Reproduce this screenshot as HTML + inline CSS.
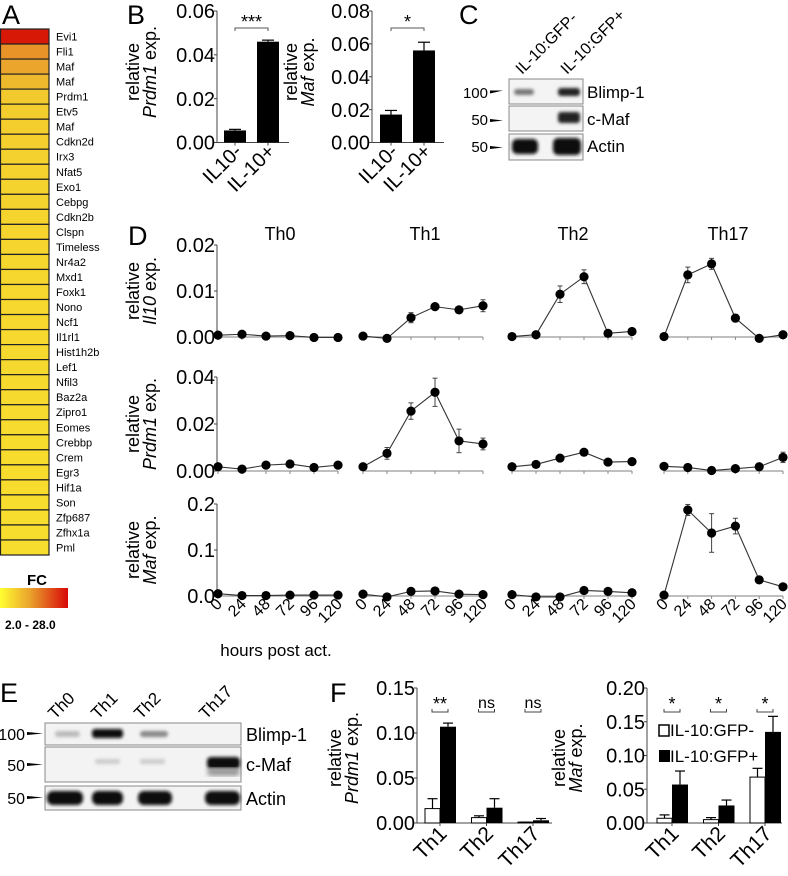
<!DOCTYPE html>
<html><head><meta charset="utf-8"><style>
html,body{margin:0;padding:0;background:#fff;}
svg{display:block;font-family:"Liberation Sans",Arial,sans-serif;}
</style></head><body>
<svg id="fig" width="788" height="876" viewBox="0 0 788 876" xmlns="http://www.w3.org/2000/svg">
<defs>
<linearGradient id="fcgrad" x1="0" x2="1" y1="0" y2="0">
<stop offset="0" stop-color="#ffff30"/><stop offset="0.45" stop-color="#eaa02c"/><stop offset="1" stop-color="#d80808"/>
</linearGradient>
<filter id="blur1"><feGaussianBlur stdDeviation="1.6"/></filter>
<filter id="blur2"><feGaussianBlur stdDeviation="2.5"/></filter>
</defs>
<!-- panel letters -->
<text x="2" y="24" font-size="27">A</text>
<text x="127" y="24" font-size="27">B</text>
<text x="459" y="24" font-size="27">C</text>
<text x="128" y="245" font-size="27">D</text>
<text x="0" y="702" font-size="27">E</text>
<text x="330" y="702" font-size="27">F</text>

<g id="heat"></g>
<g>
<text x="37" y="585" font-size="15" font-weight="bold" text-anchor="middle">FC</text>
<rect x="0" y="588" width="68" height="20" fill="url(#fcgrad)"/>
<text x="5" y="629" font-size="12" font-weight="bold">2.0 - 28.0</text>
</g>

<g id="panelB"></g>
<g id="panelC">
<text transform="translate(522,75) rotate(-45)" font-size="16">IL-10:GFP-</text>
<text transform="translate(567,75) rotate(-45)" font-size="16">IL-10:GFP+</text>
<rect x="509" y="79" width="74" height="25" fill="#f4f4f4" stroke="#888"/>
<rect x="509" y="106" width="74" height="25" fill="#f4f4f4" stroke="#888"/>
<rect x="509" y="134" width="74" height="26" fill="#f4f4f4" stroke="#888"/>
<g filter="url(#blur1)">
<rect x="514" y="89" width="20" height="6" rx="3" fill="#777"/>
<rect x="558" y="88" width="22" height="8" rx="3" fill="#222"/>
<rect x="558" y="112" width="22" height="11" rx="3" fill="#222"/>
<rect x="512" y="139" width="26" height="15" rx="5" fill="#111"/>
<rect x="553" y="138" width="28" height="17" rx="5" fill="#111"/>
</g>
<text x="488" y="98" font-size="15" text-anchor="end">100</text><polygon points="490,92 503,92 490,95" fill="#000" transform="translate(0,-1.5)"/>
<text x="488" y="125" font-size="15" text-anchor="end">50</text><polygon points="490,119 503,120.5 490,122" fill="#000"/>
<text x="488" y="152" font-size="15" text-anchor="end">50</text><polygon points="490,146 503,147.5 490,149" fill="#000"/>
<text x="587" y="98" font-size="17">Blimp-1</text>
<text x="587" y="125" font-size="17">c-Maf</text>
<text x="587" y="152" font-size="17">Actin</text>
</g>

<g id="panelD"></g>

<g id="panelE">
<text transform="translate(55,720) rotate(-45)" font-size="17">Th0</text>
<text transform="translate(98,720) rotate(-45)" font-size="17">Th1</text>
<text transform="translate(141,720) rotate(-45)" font-size="17">Th2</text>
<text transform="translate(206,720) rotate(-45)" font-size="17">Th17</text>
<rect x="45" y="723" width="196" height="22" fill="#f3f3f3" stroke="#888"/>
<rect x="45" y="747" width="196" height="35" fill="#f3f3f3" stroke="#888"/>
<rect x="45" y="786" width="196" height="24" fill="#f3f3f3" stroke="#888"/>
<g filter="url(#blur1)">
<rect x="55" y="731" width="25" height="6" rx="3" fill="#bbb"/>
<rect x="92" y="729" width="31" height="9" rx="3" fill="#111"/>
<rect x="140" y="731" width="28" height="6" rx="3" fill="#888"/>
<rect x="95" y="759" width="25" height="5" rx="2" fill="#ccc"/>
<rect x="140" y="759" width="25" height="5" rx="2" fill="#ccc"/>
<rect x="207" y="757" width="33" height="12" rx="4" fill="#111"/>
<rect x="47" y="791" width="36" height="14" rx="6" fill="#0a0a0a"/>
<rect x="92" y="791" width="31" height="14" rx="6" fill="#0a0a0a"/>
<rect x="138" y="791" width="34" height="14" rx="6" fill="#0a0a0a"/>
<rect x="205" y="791" width="35" height="14" rx="6" fill="#0a0a0a"/>
</g>
<rect x="207" y="768" width="33" height="8" rx="4" fill="#999" filter="url(#blur2)"/>
<text x="25" y="740" font-size="16" text-anchor="end">100</text><polygon points="27,732 43,733.5 27,735" fill="#000"/>
<text x="25" y="771" font-size="16" text-anchor="end">50</text><polygon points="27,763 43,764.5 27,766" fill="#000"/>
<text x="25" y="804" font-size="16" text-anchor="end">50</text><polygon points="27,796 43,797.5 27,799" fill="#000"/>
<text x="246" y="741" font-size="18">Blimp-1</text>
<text x="246" y="771" font-size="18">c-Maf</text>
<text x="246" y="805" font-size="18">Actin</text>
</g>

<g id="panelF"></g>
</svg>
<script>
// ---------- Heatmap data ----------
const hmGenes = ["Evi1","Fli1","Maf","Maf","Prdm1","Etv5","Maf","Cdkn2d","Irx3","Nfat5","Exo1","Cebpg","Cdkn2b","Clspn","Timeless","Nr4a2","Mxd1","Foxk1","Nono","Ncf1","Il1rl1","Hist1h2b","Lef1","Nfil3","Baz2a","Zipro1","Eomes","Crebbp","Crem","Egr3","Hif1a","Son","Zfp687","Zfhx1a","Pml"];
const hmFC = [28,15,13,10.5,8.5,8.2,8,7.8,7.6,7.5,7.4,7.3,7.2,7.1,7,6.9,6.9,6.8,6.8,6.7,6.7,6.6,6.6,6.5,6.5,6.4,6.4,6.3,6.3,6.2,6.2,6.1,6.1,6,6];

// ---------- Panel B data ----------
const bCats = ["IL10-","IL-10+"];
const bPrdm1 = [0.0055,0.046];
const bPrdm1Err = [0.0005,0.0007];
const bPrdm1Ticks = [0,0.02,0.04,0.06];
const bMaf = [0.017,0.056];
const bMafErr = [0.0025,0.005];
const bMafTicks = [0,0.02,0.04,0.06,0.08];

// ---------- Panel D data ----------
const dTimes = ["0","24","48","72","96","120"];
const dConds = ["Th0","Th1","Th2","Th17"];
const dIl10 = [
 [0.0004,0.0006,0.0002,0.0003,-0.0001,-0.0001],
 [0.0002,-0.0003,0.0042,0.0066,0.0059,0.0068],
 [0.0001,0.0005,0.0093,0.0131,0.0008,0.0012],
 [0.0001,0.0135,0.0159,0.0041,-0.0003,0.0005]];
const dIl10Err = [
 [0,0,0,0,0,0],[0,0,0.0011,0.0006,0.0003,0.0013],[0,0,0.0018,0.0015,0,0],[0,0.0017,0.0012,0.0008,0,0]];
const dPrdm1 = [
 [0.0018,0.0008,0.0025,0.003,0.0015,0.0025],
 [0.0018,0.0075,0.0255,0.0335,0.0128,0.0115],
 [0.0018,0.0028,0.0055,0.008,0.0038,0.004],
 [0.002,0.0015,0.0002,0.001,0.0018,0.0058]];
const dPrdm1Err = [
 [0,0,0,0,0,0],[0,0.0025,0.0035,0.006,0.005,0.0025],[0,0,0,0,0,0],[0,0,0,0,0,0.0022]];
const dMaf = [
 [0.005,0.001,0.001,0.002,0.002,0.002],
 [0.004,-0.002,0.01,0.011,0.004,0.003],
 [0.003,-0.002,-0.002,0.012,0.01,0.007],
 [0.002,0.187,0.137,0.152,0.035,0.02]];
const dMafErr = [
 [0,0,0,0,0,0],[0,0,0,0,0,0],[0,0,0,0,0,0],[0,0.012,0.042,0.017,0.004,0]];
const dIl10Ticks = ["0.00","0.01","0.02"];
const dPrdm1Ticks = ["0.00","0.02","0.04"];
const dMafTicks = ["0.0","0.1","0.2"];

// ---------- Panel F data ----------
const fCats = ["Th1","Th2","Th17"];
const fPrdm1Neg = [0.016,0.006,0.001];
const fPrdm1NegErr = [0.011,0.002,0];
const fPrdm1Pos = [0.107,0.017,0.003];
const fPrdm1PosErr = [0.004,0.01,0.002];
const fPrdm1Sig = ["**","ns","ns"];
const fPrdm1Ticks = ["0.00","0.05","0.10","0.15"];
const fMafNeg = [0.007,0.005,0.068];
const fMafNegErr = [0.005,0.003,0.013];
const fMafPos = [0.057,0.026,0.135];
const fMafPosErr = [0.02,0.008,0.023];
const fMafSig = ["*","*","*"];
const fMafTicks = ["0.00","0.05","0.10","0.15","0.20"];

const NS = "http://www.w3.org/2000/svg";
function mk(tag, parent, attrs){
  const e = document.createElementNS(NS, tag);
  for (const k in attrs) e.setAttribute(k, attrs[k]);
  parent.appendChild(e);
  return e;
}
function lerp(a,b,t){return a+(b-a)*t;}
function fcColor(v){
  const t = Math.max(0,Math.min(1,(v-2)/26));
  const c0=[255,255,48], c1=[234,160,44], c2=[216,24,6];
  let r,g,b;
  if(t<0.45){const u=t/0.45;r=lerp(c0[0],c1[0],u);g=lerp(c0[1],c1[1],u);b=lerp(c0[2],c1[2],u);}
  else{const u=(t-0.45)/0.55;r=lerp(c1[0],c2[0],u);g=lerp(c1[1],c2[1],u);b=lerp(c1[2],c2[2],u);}
  return `rgb(${r|0},${g|0},${b|0})`;
}

// ---------- Heatmap ----------
(function(){
  const g = document.getElementById("heat");
  const top=29, rowH=526/hmGenes.length;
  hmGenes.forEach((name,i)=>{
    const r = mk("rect", g, {x:0.5,y:top+i*rowH,width:48.5,height:rowH,fill:fcColor(hmFC[i]),stroke:"#222","stroke-width":1.2});
    
    
    const t = mk("text", g, {x:56,y:top+i*rowH+rowH/2+4,"font-size":11});
    t.textContent = name;
    
    
  });
})();

// ---------- Generic y-axis ----------
function yAxis(g, x, y0, y1, vmax, ticks, fs, labels){
  const sy = v => y0 - (v/vmax)*(y0-y1);
  const ax = mk("line", g, {x1:x,x2:x,y1:sy(vmax),y2:y0,stroke:"#444","stroke-width":1});
  
  
  ticks.forEach((tv,i)=>{
    const v = parseFloat(tv);
    mk("line", g, {x1:x-3,x2:x,y1:sy(v),y2:sy(v),stroke:"#444"});
    const t = mk("text", g, {x:x-2,y:sy(v)+fs*0.36,"font-size":fs,"text-anchor":"end"});
    t.textContent = labels ? labels[i] : tv;
    
    
  });
  return sy;
}
function yTitle(g, cx, cy, gene, fs){
  const t1 = mk("text", g, {transform:`translate(${cx-9},${cy}) rotate(-90)`,"font-size":fs,"text-anchor":"middle"});
  t1.textContent = "relative";
  
  
  const t2 = mk("text", g, {transform:`translate(${cx+8},${cy}) rotate(-90)`,"font-size":fs,"text-anchor":"middle"});
  const it = mk("tspan", t2, {"font-style":"italic"}); it.textContent = gene;
  const rest = mk("tspan", t2, {}); rest.textContent = " exp.";
  
  
}
function errBar(g, x, yTop, yVal, w){
  mk("line", g, {x1:x,x2:x,y1:yTop,y2:yVal,stroke:"#000","stroke-width":1.2});
  mk("line", g, {x1:x-w,x2:x+w,y1:yTop,y2:yTop,stroke:"#000","stroke-width":1.2});
}

// ---------- Panel B ----------
(function(){
  const g = document.getElementById("panelB");
  function chart(ax, vmax, ticks, vals, errs, gene, titleX, c0, star){
    const y0=142.5, y1=11;
    const sy = yAxis(g, ax, y0, y1, vmax, ticks.map(v=>v.toFixed(2)), 20);
    mk("line", g, {x1:ax,x2:ax+72,y1:y0,y2:y0,stroke:"#444"});
    yTitle(g, titleX, 72, gene, 18);
    vals.forEach((v,i)=>{
      const cx = c0 + i*33;
      errBar(g, cx, sy(v+errs[i]), sy(v), 6);
      const r = mk("rect", g, {x:cx-11,y:sy(v),width:22,height:y0-sy(v),fill:"#000"});
      
      
      mk("line", g, {x1:cx,x2:cx,y1:y0,y2:y0+3,stroke:"#444"});
      const t = mk("text", g, {transform:`translate(${cx+8},${y0+10}) rotate(-45)`,"font-size":20,"text-anchor":"end"});
      t.textContent = bCats[i];
      
      
    });
    mk("path", g, {d:`M${c0},31 V28 H${c0+33} V31`,fill:"none",stroke:"#555"});
    const s = mk("text", g, {x:c0+16.5,y:28,"font-size":18,"text-anchor":"middle"});
    s.textContent = star;
    
    
  }
  chart(217, 0.06, bPrdm1Ticks, bPrdm1, bPrdm1Err, "Prdm1", 148, 235, "***");
  chart(372, 0.08, bMafTicks, bMaf, bMafErr, "Maf", 306, 391, "*");
})();

// ---------- Panel D ----------
(function(){
  const g = document.getElementById("panelD");
  const starts=[218,363,512,664], step=[24,24,24,23.8];
  const titleCx=[280,425,573,728];
  dConds.forEach((c,i)=>{
    const t = mk("text", g, {x:titleCx[i],y:240,"font-size":18,"text-anchor":"middle"});
    t.textContent = c;
    
    
  });
  const rows = [
    {vals:dIl10,err:dIl10Err,ticks:dIl10Ticks,vmax:0.02,y0:337,y1:245,gene:"Il10"},
    {vals:dPrdm1,err:dPrdm1Err,ticks:dPrdm1Ticks,vmax:0.04,y0:471,y1:377,gene:"Prdm1"},
    {vals:dMaf,err:dMafErr,ticks:dMafTicks,vmax:0.2,y0:596,y1:504,gene:"Maf"}];
  rows.forEach((row,ri)=>{
    const sy = yAxis(g, 217, row.y0, row.y1, row.vmax, row.ticks, 20);
    yTitle(g, 148, (row.y0+row.y1)/2, row.gene, 18);
    dConds.forEach((c,ci)=>{
      const sx = k => starts[ci] + k*step[ci];
      const base = mk("line", g, {x1:sx(0),x2:sx(5),y1:row.y0,y2:row.y0,stroke:"#999","stroke-width":1.3});
      
      
      dTimes.forEach((tm,k)=>{
        mk("line", g, {x1:sx(k),x2:sx(k),y1:row.y0,y2:row.y0+3,stroke:"#888"});
      });
      const pts = row.vals[ci].map((v,k)=>`${sx(k)},${sy(v)}`).join(" ");
      const pl = mk("polyline", g, {points:pts,fill:"none",stroke:"#333","stroke-width":1.1});
      
      
      row.vals[ci].forEach((v,k)=>{
        const e = row.err[ci][k];
        if(e>0){
          mk("line", g, {x1:sx(k),x2:sx(k),y1:sy(v+e),y2:sy(v-e),stroke:"#444"});
          mk("line", g, {x1:sx(k)-2.5,x2:sx(k)+2.5,y1:sy(v+e),y2:sy(v+e),stroke:"#444"});
          mk("line", g, {x1:sx(k)-2.5,x2:sx(k)+2.5,y1:sy(v-e),y2:sy(v-e),stroke:"#444"});
        }
        const p = mk("circle", g, {cx:sx(k),cy:sy(v),r:4.6,fill:"#000"});
        
        
      });
      if(ri===2){
        dTimes.forEach((tm,k)=>{
          const t = mk("text", g, {transform:`translate(${sx(k)+5},${row.y0+9}) rotate(-45)`,"font-size":16,"text-anchor":"end"});
          t.textContent = tm;
          
          
        });
      }
    });
  });
  const xt = mk("text", g, {x:276,y:656,"font-size":17,"text-anchor":"middle"});
  xt.textContent = "hours post act.";
  
  
})();

// ---------- Panel F ----------
(function(){
  const g = document.getElementById("panelF");
  function chart(ax, vmax, ticks, neg, negE, pos, posE, sig, gene, titleX, c0, name){
    const y0=823, y1=688;
    const sy = yAxis(g, ax, y0, y1, vmax, ticks, 20);
    mk("line", g, {x1:ax,x2:ax+135,y1:y0,y2:y0,stroke:"#444"});
    yTitle(g, titleX, 758, gene, 18);
    fCats.forEach((c,i)=>{
      const cx = c0 + i*46.5;
      errBar(g, cx-7.5, sy(neg[i]+negE[i]), sy(neg[i]), 5);
      errBar(g, cx+8, sy(pos[i]+posE[i]), sy(pos[i]), 5);
      const rn = mk("rect", g, {x:cx-15,y:sy(neg[i]),width:15,height:Math.max(0.5,y0-sy(neg[i])),fill:"#fff",stroke:"#000","stroke-width":1});
      
      
      const rp = mk("rect", g, {x:cx,y:sy(pos[i]),width:16,height:y0-sy(pos[i]),fill:"#000"});
      
      
      mk("line", g, {x1:cx,x2:cx,y1:y0,y2:y0+3,stroke:"#444"});
      mk("path", g, {d:`M${cx-8},709 V712 H${cx+8} V709`,fill:"none",stroke:"#444"});
      const s = mk("text", g, {x:cx,y:sig[i]==="ns"?708:710,"font-size":sig[i]==="ns"?16:18,"text-anchor":"middle"});
      s.textContent = sig[i];
      
      
      const t = mk("text", g, {transform:`translate(${cx+8},${y0+12}) rotate(-45)`,"font-size":21,"text-anchor":"end"});
      t.textContent = c;
      
      
    });
  }
  chart(417, 0.15, fPrdm1Ticks, fPrdm1Neg, fPrdm1NegErr, fPrdm1Pos, fPrdm1PosErr, fPrdm1Sig, "Prdm1", 350, 440, "prdm1");
  chart(647, 0.20, fMafTicks, fMafNeg, fMafNegErr, fMafPos, fMafPosErr, fMafSig, "Maf", 574, 672, "maf");
  const l1 = mk("rect", g, {x:659,y:725,width:10,height:11,fill:"#fff",stroke:"#000","stroke-width":1.5});
  
  
  const t1 = mk("text", g, {x:670,y:736,"font-size":17});
  t1.textContent = "IL-10:GFP-";
  
  
  const l2 = mk("rect", g, {x:659,y:750,width:11,height:12,fill:"#000"});
  
  
  const t2 = mk("text", g, {x:670,y:762,"font-size":17});
  t2.textContent = "IL-10:GFP+";
  
  
})();
</script>
</body></html>
